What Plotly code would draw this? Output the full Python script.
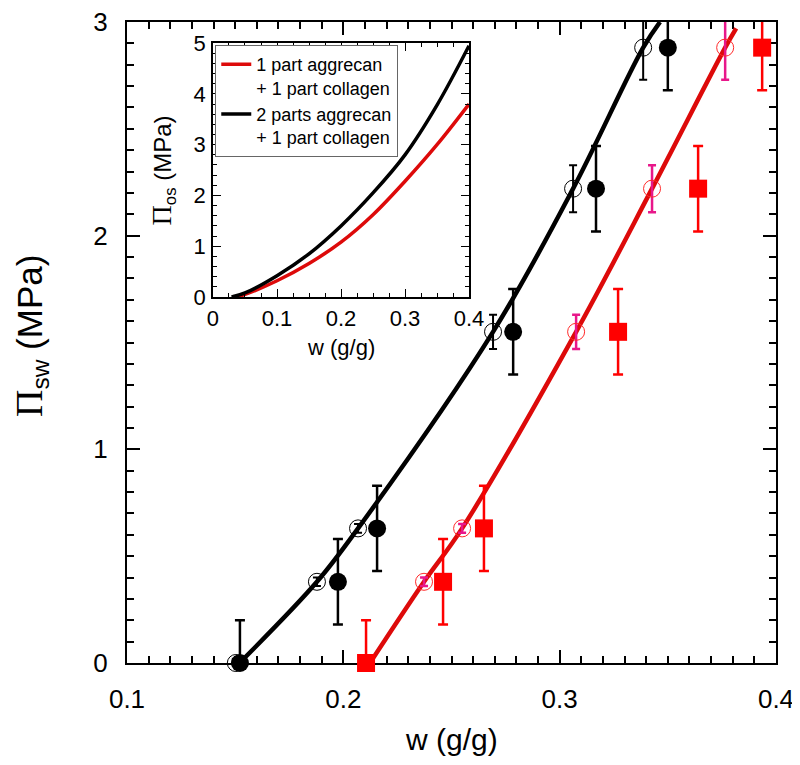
import plotly.graph_objects as go

# ---------------- data ----------------
PI_levels = [0.0, 0.38, 0.63, 1.55, 2.22, 2.88]

# 2 parts aggrecan + 1 part collagen (black)
black_open_w = [0.1503, 0.1878, 0.2068, 0.2692, 0.3062, 0.3386]
black_open_err = [0.02, 0.02, 0.02, 0.08, 0.11, 0.15]
black_fill_w = [0.1522, 0.1975, 0.2156, 0.2785, 0.3168, 0.3500]
black_fill_err = [0.2, 0.2, 0.2, 0.2, 0.2, 0.2]

# 1 part aggrecan + 1 part collagen (red)
red_open_w = [0.2373, 0.2549, 0.3076, 0.3427, 0.3765]
red_open_pi = [0.38, 0.63, 1.55, 2.22, 2.88]
red_open_err = [0.02, 0.02, 0.08, 0.11, 0.15]
red_sq_w = [0.2105, 0.2461, 0.2650, 0.3270, 0.3640, 0.3936]
red_sq_err = [0.2, 0.2, 0.2, 0.2, 0.2, 0.2]

# fitted curves, main panel
black_fit_w = [0.152, 0.1878, 0.2068, 0.2692, 0.3062, 0.3386, 0.3464]
black_fit_pi = [0.0, 0.38, 0.63, 1.55, 2.22, 2.88, 3.0]
red_fit_w = [0.2123, 0.2373, 0.2549, 0.3076, 0.3427, 0.3765, 0.3816]
red_fit_pi = [0.0, 0.38, 0.63, 1.55, 2.22, 2.88, 2.97]

# inset curves
inset_black_w = [0.029, 0.05, 0.10, 0.15, 0.20, 0.25, 0.30, 0.35, 0.40]
inset_black_pi = [0.0, 0.08, 0.42, 0.85, 1.40, 2.05, 2.80, 3.78, 4.95]
inset_red_w = [0.036, 0.05, 0.10, 0.15, 0.20, 0.25, 0.30, 0.35, 0.40]
inset_red_pi = [0.0, 0.05, 0.32, 0.66, 1.08, 1.62, 2.28, 3.00, 3.80]

legend_red = "1 part aggrecan<br>+ 1 part collagen"
legend_black = "2 parts aggrecan<br>+ 1 part collagen"

# ---------------- styling ----------------
FONT = "Liberation Sans, Arial, sans-serif"
SERIF = "Liberation Serif"
RED = "#ff0000"
RED_LINE = "#dd0a0a"
MAGENTA = "#e8178a"

fig = go.Figure()

def err_trace(x, y, err, color, width, thick=2.5):
    return go.Scatter(
        x=x, y=y, mode="markers", marker=dict(size=1, opacity=0),
        error_y=dict(type="data", array=err, color=color, thickness=thick, width=width),
        showlegend=False, cliponaxis=True, hoverinfo="skip",
    )

# fitted curves
fig.add_trace(go.Scatter(x=black_fit_w, y=black_fit_pi, mode="lines",
                         line=dict(color="black", width=4.5, shape="spline"),
                         showlegend=False))
fig.add_trace(go.Scatter(x=red_fit_w, y=red_fit_pi, mode="lines",
                         line=dict(color=RED_LINE, width=4.5, shape="spline"),
                         showlegend=False))

# error bars (clipped at plot area)
fig.add_trace(err_trace(black_open_w, PI_levels, black_open_err, "black", 4, 2))
fig.add_trace(err_trace(black_fill_w, PI_levels, black_fill_err, "black", 5))
fig.add_trace(err_trace(red_open_w, red_open_pi, red_open_err, MAGENTA, 4, 2.5))
fig.add_trace(err_trace(red_sq_w, PI_levels, red_sq_err, RED, 5))

# markers
fig.add_trace(go.Scatter(x=black_open_w, y=PI_levels, mode="markers",
                         marker=dict(symbol="circle-open", size=17, color="black",
                                     line=dict(width=1, color="black")),
                         showlegend=False, cliponaxis=False))
fig.add_trace(go.Scatter(x=black_fill_w, y=PI_levels, mode="markers",
                         marker=dict(symbol="circle", size=18, color="black"),
                         showlegend=False, cliponaxis=False))
fig.add_trace(go.Scatter(x=red_open_w, y=red_open_pi, mode="markers",
                         marker=dict(symbol="circle-open", size=17, color="#ff2a2a",
                                     line=dict(width=1, color="#ff2a2a")),
                         showlegend=False, cliponaxis=False))
fig.add_trace(go.Scatter(x=red_sq_w, y=PI_levels, mode="markers",
                         marker=dict(symbol="square", size=18, color=RED),
                         showlegend=False, cliponaxis=False))

# inset curves
fig.add_trace(go.Scatter(x=inset_red_w, y=inset_red_pi, mode="lines", name=legend_red,
                         line=dict(color=RED_LINE, width=3.5, shape="spline"),
                         xaxis="x2", yaxis="y2"))
fig.add_trace(go.Scatter(x=inset_black_w, y=inset_black_pi, mode="lines", name=legend_black,
                         line=dict(color="black", width=3.5, shape="spline"),
                         xaxis="x2", yaxis="y2"))

main_axis = dict(showline=True, linecolor="black", linewidth=2, mirror="allticks",
                 ticks="inside", ticklen=13, tickwidth=1.5, tickcolor="black",
                 showgrid=False, zeroline=False, layer="below traces",
                 automargin=False, ticklabeloverflow="allow",
                 tickfont=dict(family=FONT, size=26, color="black"),
                 ticklabelstandoff=12)
inset_axis = dict(showline=True, linecolor="black", linewidth=1.5, mirror="allticks",
                  ticks="inside", ticklen=8, tickwidth=1.2, tickcolor="black",
                  showgrid=False, zeroline=False, automargin=False,
                  ticklabeloverflow="allow",
                  tickfont=dict(family=FONT, size=22, color="black"),
                  ticklabelstandoff=1)

fig.update_layout(
    width=792, height=749,
    margin=dict(l=119, r=24, t=14, b=94),
    paper_bgcolor="white", plot_bgcolor="white",
    font=dict(family=FONT, color="black"),
    xaxis=dict(main_axis, range=[0.1, 0.4], tickvals=[0.1, 0.2, 0.3, 0.4],
               ticktext=["0.1", "0.2", "0.3", "0.4"], domain=[0, 1],
               minor=dict(dtick=0.01, ticklen=7, tickwidth=1.5, ticks="inside",
                          tickcolor="black", showgrid=False)),
    yaxis=dict(main_axis, range=[0, 3], tickvals=[0, 1, 2, 3], domain=[0, 1],
               minor=dict(dtick=0.1, ticklen=7, tickwidth=1.5, ticks="inside",
                          tickcolor="black", showgrid=False)),
    xaxis2=dict(inset_axis, range=[0, 0.4], tickvals=[0, 0.1, 0.2, 0.3, 0.4],
                ticktext=["0", "0.1", "0.2", "0.3", "0.4"],
                domain=[0.1325, 0.527], anchor="y2",
                minor=dict(dtick=0.025, ticklen=4, tickwidth=1, ticks="inside",
                           tickcolor="black", showgrid=False)),
    yaxis2=dict(inset_axis, range=[0, 5], tickvals=[0, 1, 2, 3, 4, 5],
                domain=[0.571, 0.967], anchor="x2",
                minor=dict(dtick=0.2, ticklen=4, tickwidth=1, ticks="inside",
                           tickcolor="black", showgrid=False)),
    legend=dict(x=0.136, y=0.964, xanchor="left", yanchor="top",
                bgcolor="white", bordercolor="#666666", borderwidth=1,
                font=dict(family=FONT, size=18, color="black"),
                itemwidth=30, valign="top", tracegroupgap=0),
    showlegend=True,
    annotations=[
        dict(text="w (g/g)", xref="paper", yref="paper", x=0.5, y=-0.12,
             showarrow=False, font=dict(family=FONT, size=30, color="black"),
             xanchor="center", yanchor="middle"),
        dict(text=f"<span style='font-family:{SERIF};font-size:38px'>Π</span><sub>sw</sub> (MPa)",
             xref="paper", yref="paper", x=-0.148, y=0.51, textangle=-90,
             showarrow=False, font=dict(family=FONT, size=35, color="black"),
             xanchor="center", yanchor="middle"),
        dict(text="w (g/g)", xref="paper", yref="paper", x=0.329, y=0.492,
             showarrow=False, font=dict(family=FONT, size=22, color="black"),
             xanchor="center", yanchor="middle"),
        dict(text=f"<span style='font-family:{SERIF};font-size:28px'>Π</span><sub>os</sub> (MPa)",
             xref="paper", yref="paper", x=0.056, y=0.769, textangle=-90,
             showarrow=False, font=dict(family=FONT, size=24, color="black"),
             xanchor="center", yanchor="middle"),
    ],
)

fig.write_html("out.html")
